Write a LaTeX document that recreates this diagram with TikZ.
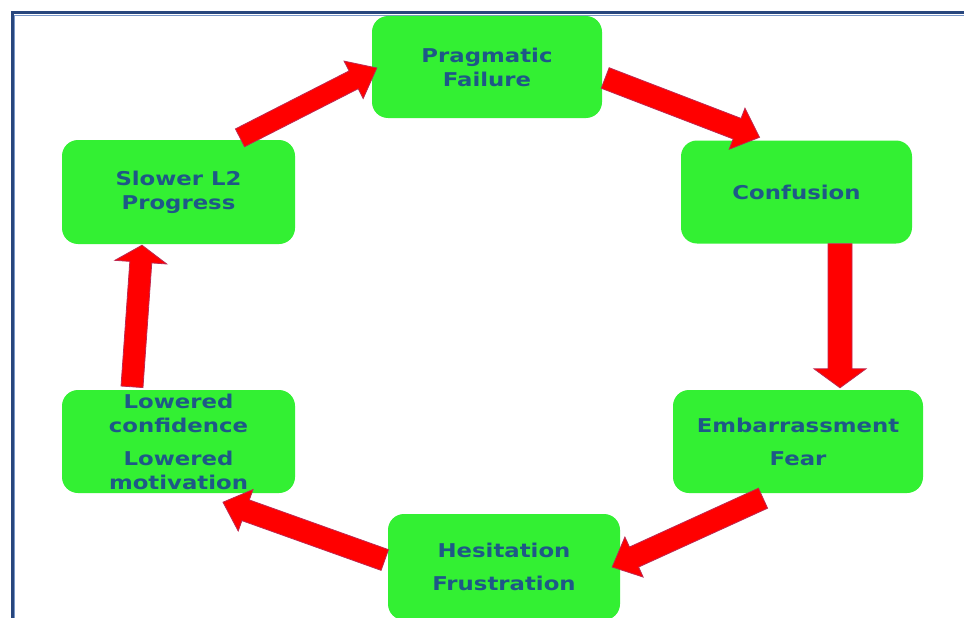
\documentclass[tikz,border=0pt]{standalone}
\usepackage{fontspec}
\newfontfamily\labfont[FakeStretch=1.2]{DejaVu Sans}
\usetikzlibrary{calc}
\definecolor{boxgreen}{RGB}{51,240,51}
\definecolor{txtblue}{RGB}{30,88,135}
\definecolor{arrred}{RGB}{255,0,0}
\definecolor{arrline}{RGB}{190,40,80}
\definecolor{frameblue}{RGB}{40,70,125}
\definecolor{framelight}{RGB}{120,150,200}
\newcommand\blkarrow[5]{%
  \coordinate (ba-b) at ($(#2)!#5!(#1)$);
  \filldraw[blockarrow] ($(#1)!#3!90:(#2)$) -- ($(ba-b)!#3!90:(#2)$) -- ($(ba-b)!#4!90:(#2)$) -- (#2) -- ($(ba-b)!#4!-90:(#2)$) -- ($(ba-b)!#3!-90:(#2)$) -- ($(#1)!#3!-90:(#2)$) -- cycle;
}
\begin{document}
\begin{tikzpicture}[x=1pt,y=-1pt,
  box/.style={fill=boxgreen, rounded corners=16pt, inner sep=0pt, align=center,
    text=txtblue, font=\labfont\bfseries\fontsize{19}{24}\selectfont},
  blockarrow/.style={fill=arrred, draw=arrline, line width=0.8pt, line join=miter}]
\clip (0,0) rectangle (964,618);
\fill[white] (0,0) rectangle (964,618);
\draw[frameblue, line width=3pt] (12,700) -- (12,13) -- (1000,13);
\draw[framelight, line width=1pt] (14.5,700) -- (14.5,15.5) -- (1000,15.5);

\node[box, minimum width=230pt, minimum height=102pt] (prag) at (487,67) {Pragmatic\\Failure};
\node[box, minimum width=231pt, minimum height=103pt] (conf) at (796.5,192) {Confusion};
\node[box, minimum width=250pt, minimum height=103pt] (emb) at (798,441.5) {Embarrassment\\[9pt]Fear};
\node[box, minimum width=232pt, minimum height=106pt] (hes) at (504,567) {Hesitation\\[9pt]Frustration};
\node[box, minimum width=233pt, minimum height=103pt] (low) at (178.5,441.5) {Lowered\\confidence\\[9pt]Lowered\\motivation};
\node[box, minimum width=233pt, minimum height=104pt] (slow) at (178.5,192) {Slower L2\\Progress};

\coordinate (a1s) at ($(slow.north)+(61.5,-2)$);
\coordinate (a1e) at ($(prag.west)+(5,1)$);
\coordinate (a2s) at ($(prag.east)+(3,11)$);
\coordinate (a2e) at ($(conf.north)+(-37,-3)$);
\coordinate (a3s) at ($(conf.south)+(43.5,0)$);
\coordinate (a3e) at ($(emb.north)+(42,-2)$);
\coordinate (a4s) at ($(emb.south)+(-35,5)$);
\coordinate (a4e) at ($(hes.east)+(-8,0)$);
\coordinate (a5s) at ($(hes.west)+(-3,-7)$);
\coordinate (a5e) at ($(low.south)+(44.5,9)$);
\coordinate (a6s) at ($(low.north)+(-46.5,-3)$);
\coordinate (a6e) at ($(slow.south)+(-36.5,1)$);

\blkarrow{a1s}{a1e}{10pt}{21pt}{26pt}
\blkarrow{a2s}{a2e}{11pt}{22pt}{24pt}
\blkarrow{a3s}{a3e}{12pt}{26pt}{19pt}
\blkarrow{a4s}{a4e}{11pt}{22pt}{24pt}
\blkarrow{a5s}{a5e}{11pt}{22pt}{24pt}
\blkarrow{a6s}{a6e}{11pt}{26pt}{17pt}
\end{tikzpicture}
\end{document}
